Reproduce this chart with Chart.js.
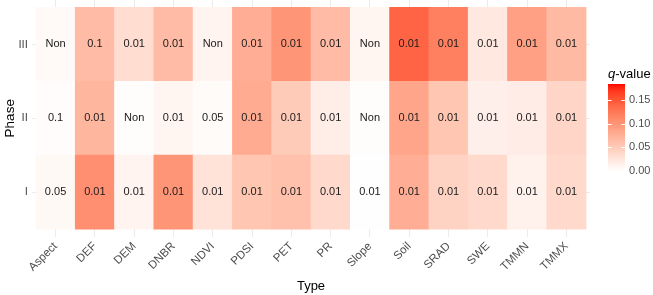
<!DOCTYPE html>
<html>
<head>
<meta charset="utf-8">
<script src="https://cdn.jsdelivr.net/npm/chart.js@4.4.1/dist/chart.umd.min.js"></script>
<style>
  html, body { margin: 0; padding: 0; background: #ffffff; }
  #wrap { width: 653px; height: 295px; position: relative; }
</style>
</head>
<body>
<div id="wrap"><canvas id="c"></canvas></div>
<script>
// ---- data ----
const types = ["Aspect","DEF","DEM","DNBR","NDVI","PDSI","PET","PR","Slope","Soil","SRAD","SWE","TMMN","TMMX"];
const phases = ["I","II","III"];
// q-values (fill colour)
const qI   = [0.006,0.105,0.011,0.100,0.028,0.055,0.060,0.037,0.001,0.077,0.042,0.037,0.013,0.037];
const qII  = [0.003,0.070,0.002,0.009,0.004,0.080,0.050,0.017,0.002,0.086,0.055,0.015,0.018,0.040];
const qIII = [0.005,0.065,0.033,0.065,0.011,0.077,0.100,0.065,0.009,0.140,0.118,0.022,0.090,0.066];
// p-value labels
const pI   = ["0.05","0.01","0.01","0.01","0.01","0.01","0.01","0.01","0.01","0.01","0.01","0.01","0.01","0.01"];
const pII  = ["0.1","0.01","Non","0.01","0.05","0.01","0.01","0.01","Non","0.01","0.01","0.01","0.01","0.01"];
const pIII = ["Non","0.1","0.01","0.01","Non","0.01","0.01","0.01","Non","0.01","0.01","0.01","0.01","0.01"];
// colour bar
const qMin = 0, qMax = 0.184;
const legendBreaks = [0.00, 0.05, 0.10, 0.15];

const qRows = [qI, qII, qIII];
const pRows = [pI, pII, pIII];

// ---- white -> red interpolation in CIELAB ----
function srgbToLin(c){ c/=255; return c<=0.04045? c/12.92 : Math.pow((c+0.055)/1.055,2.4); }
function linToSrgb(c){ c = c<=0.0031308? 12.92*c : 1.055*Math.pow(c,1/2.4)-0.055; return Math.max(0,Math.min(255,Math.round(c*255))); }
function rgbToLab(r,g,b){
  const R=srgbToLin(r),G=srgbToLin(g),B=srgbToLin(b);
  let X=(0.4124564*R+0.3575761*G+0.1804375*B)/0.95047;
  let Y=(0.2126729*R+0.7151522*G+0.0721750*B);
  let Z=(0.0193339*R+0.1191920*G+0.9503041*B)/1.08883;
  const f=t=>t>0.008856? Math.cbrt(t) : 7.787*t+16/116;
  const fx=f(X),fy=f(Y),fz=f(Z);
  return [116*fy-16, 500*(fx-fy), 200*(fy-fz)];
}
function labToRgb(L,a,b){
  const fy=(L+16)/116, fx=fy+a/500, fz=fy-b/200;
  const fi=t=>{const t3=t*t*t; return t3>0.008856? t3 : (t-16/116)/7.787;};
  const X=fi(fx)*0.95047, Y=fi(fy), Z=fi(fz)*1.08883;
  const R= 3.2404542*X-1.5371385*Y-0.4985314*Z;
  const G=-0.9692660*X+1.8760108*Y+0.0415560*Z;
  const B= 0.0556434*X-0.2040259*Y+1.0572252*Z;
  return [linToSrgb(R),linToSrgb(G),linToSrgb(B)];
}
const labLow = rgbToLab(255,255,255), labHigh = rgbToLab(255,0,0);
function qColor(v){
  const t=Math.max(0,Math.min(1,(v-qMin)/(qMax-qMin)));
  const c=labToRgb(labLow[0]+(labHigh[0]-labLow[0])*t, labLow[1]+(labHigh[1]-labLow[1])*t, labLow[2]+(labHigh[2]-labLow[2])*t);
  return `rgb(${c[0]},${c[1]},${c[2]})`;
}

const FONT = "'Liberation Sans', Arial, Helvetica, sans-serif";
Chart.defaults.font.family = FONT;

const datasets = qRows.map((row, r) => ({
  label: phases[r],
  data: row.map((v, i) => ({ x: i, y: [r - 0.5, r + 0.5] })),
  backgroundColor: row.map(v => qColor(v)),
  borderWidth: 0,
  grouped: false,
  barPercentage: 1,
  categoryPercentage: 1
}));

const cellLabels = {
  id: 'cellLabels',
  afterDatasetsDraw(chart) {
    const {ctx, scales: {x, y}} = chart;
    ctx.save();
    ctx.font = `11px ${FONT}`;
    ctx.fillStyle = '#1a1a1a';
    ctx.textAlign = 'center';
    ctx.textBaseline = 'middle';
    pRows.forEach((row, r) => {
      row.forEach((txt, i) => {
        ctx.fillText(txt, x.getPixelForValue(i), y.getPixelForValue(r));
      });
    });
    ctx.restore();
  }
};

const colourBar = {
  id: 'colourBar',
  afterDraw(chart) {
    const ctx = chart.ctx;
    const bx = 608, bw = 17, top = 84, bottom = 171;
    const toY = v => bottom - (v - qMin) / (qMax - qMin) * (bottom - top);
    ctx.save();
    ctx.fillStyle = '#000';
    ctx.textBaseline = 'alphabetic';
    ctx.textAlign = 'left';
    ctx.font = `italic 13px ${FONT}`;
    ctx.fillText('q', bx, 78);
    const qw = ctx.measureText('q').width;
    ctx.font = `13px ${FONT}`;
    ctx.fillText('-value', bx + qw, 78);
    for (let yy = top; yy < bottom; yy += 1) {
      const v = qMin + (bottom - (yy + 0.5)) / (bottom - top) * (qMax - qMin);
      ctx.fillStyle = qColor(v);
      ctx.fillRect(bx, yy, bw, 1.05);
    }
    ctx.strokeStyle = '#ffffff';
    ctx.lineWidth = 1;
    legendBreaks.forEach(v => {
      const yy = Math.round(toY(v)) + 0.5;
      ctx.beginPath();
      ctx.moveTo(bx, yy); ctx.lineTo(bx + 3.5, yy);
      ctx.moveTo(bx + bw - 3.5, yy); ctx.lineTo(bx + bw, yy);
      ctx.stroke();
    });
    ctx.font = `11px ${FONT}`;
    ctx.fillStyle = '#4d4d4d';
    ctx.textBaseline = 'middle';
    legendBreaks.forEach(v => {
      ctx.fillText(v.toFixed(2), bx + bw + 4, toY(v));
    });
    ctx.restore();
  }
};

new Chart(document.getElementById('c'), {
  type: 'bar',
  data: { datasets },
  options: {
    responsive: true,
    maintainAspectRatio: false,
    animation: false,
    layout: { padding: { left: 0, right: 63, top: 0, bottom: 0 } },
    plugins: { legend: { display: false }, tooltip: { enabled: false } },
    scales: {
      x: {
        type: 'linear',
        offset: false,
        min: -0.6, max: types.length - 0.4,
        afterBuildTicks: s => { s.ticks = types.map((t, i) => ({ value: i })); },
        afterFit: s => { s.height = 58.5; s.paddingLeft = 0; s.paddingRight = 0; },
        grid: { color: '#ebebeb', lineWidth: 1, drawTicks: false, offset: false },
        border: { display: false },
        ticks: {
          autoSkip: false, minRotation: 45, maxRotation: 45, padding: 3,
          color: '#4d4d4d', font: { size: 11.5 },
          callback: v => types[v]
        },
        title: { display: true, text: 'Type', color: '#000', font: { size: 13 }, padding: { top: 0, bottom: 1 } }
      },
      y: {
        type: 'linear',
        min: -0.6, max: phases.length - 0.4,
        afterBuildTicks: s => { s.ticks = phases.map((p, i) => ({ value: i })); },
        afterFit: s => { s.width = 32; s.paddingTop = 0; s.paddingBottom = 0; },
        grid: { color: '#ebebeb', lineWidth: 1, drawTicks: false },
        border: { display: false },
        ticks: { padding: 4, color: '#4d4d4d', font: { size: 11.5 }, callback: v => phases[v] },
        title: { display: true, text: 'Phase', color: '#000', font: { size: 13.5 }, padding: { top: 2, bottom: 0 } }
      }
    }
  },
  plugins: [cellLabels, colourBar]
});
</script>
</body>
</html>
